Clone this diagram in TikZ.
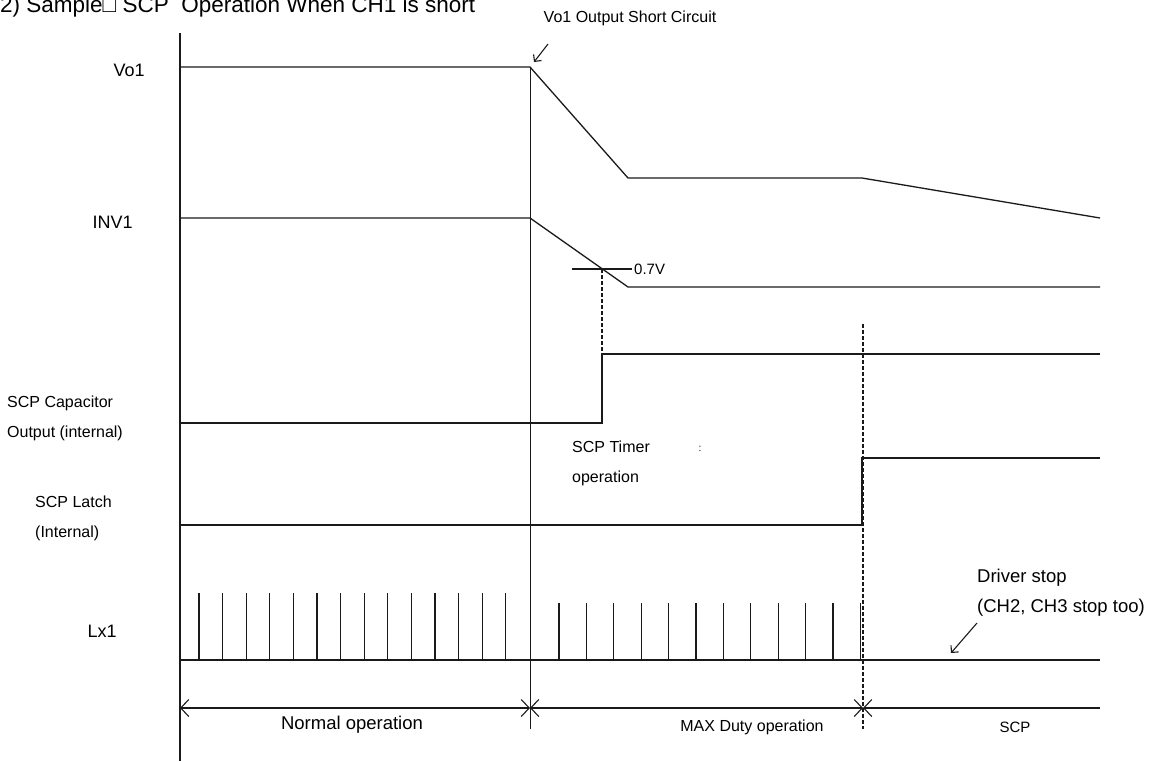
\documentclass[tikz,border=0pt]{standalone}
\usepackage{fontspec}
\setmainfont{Liberation Sans}
\usepackage{xcolor}
\usepackage{tikz}
\usetikzlibrary{calc, arrows.meta}
\definecolor{wavek}{HTML}{1A1A1A}
\newcommand{\fsTitle}{\fontsize{22.5}{27}\selectfont}
\newcommand{\fsSig}{\fontsize{18}{22}\selectfont}
\newcommand{\fsLbl}{\fontsize{16}{30}\selectfont}
\newcommand{\fsNote}{\fontsize{15}{18}\selectfont}
\newcommand{\fsDrv}{\fontsize{18.5}{30}\selectfont}

\begin{document}
\begin{tikzpicture}[x=1pt, y=-1pt,
  wave/.style={wavek, line width=1.3pt},
  thinline/.style={wavek, line width=0.9pt},
  dashline/.style={wavek, line width=1.2pt, dash pattern=on 4pt off 2pt},
  pulse/.style={wavek, line width=1.1pt},
  ptr/.style={wavek, line width=1.1pt, -{Straight Barb[length=5pt, width=10pt]}},
  dimline/.style={wavek, line width=1.1pt},
  dimtip/.tip={Straight Barb[length=8pt, width=17pt]}]
  \useasboundingbox (0,0) rectangle (1152,761);
  \def\xL{180}\def\xS{530}\def\xT{602}\def\xD{863}\def\xR{1100}\def\yDim{708}
  \node[font=\fsTitle, anchor=base west, inner sep=0pt] (title) at (0,12)
      {2) Sample□ SCP~~Operation When CH1 is short};
  \draw[wave] (\xL,33) -- (\xL,761);
  \draw[thinline] (\xS,67) -- (\xS,729);
  \draw[dashline] (\xD,324) -- (\xD,729);
  \draw[wave] (\xL,67) -- (\xS,67) -- (628,178) -- (862,178) -- (\xR,218);
  \node[font=\fsSig, anchor=west] (lblVo) at (110,70) {Vo1};
  \node[font=\fsLbl, anchor=center] (shortTxt) at (630,18) {Vo1 Output Short Circuit};
  \coordinate (shortTail) at (548,44);
  \coordinate (shortTip) at (534,62);
  \draw[ptr] (shortTail) -- (shortTip);
  \draw[wave] (\xL,218) -- (\xS,218) -- (628,287) -- (\xR,287);
  \node[font=\fsSig, anchor=west] (lblInv) at (89,222) {INV1};
  \coordinate (thrL) at (572,269);
  \coordinate (thrR) at (632,269);
  \draw[wave] (thrL) -- (thrR);
  \node[font=\fsNote, anchor=west, inner sep=2pt] (thrTxt) at (thrR) {0.7V};
  \draw[dashline] (\xT,269) -- (\xT,354);
  \draw[wave] (\xL,423) -- (\xT,423) -- (\xT,354) -- (\xR,354);
  \node[font=\fsLbl, anchor=west, align=left, inner sep=0pt] (lblCap) at (7,418.5)
      {SCP Capacitor\\Output (internal)};
  \node[font=\fsLbl, anchor=west, align=left, inner sep=0pt] (timerTxt) at (572,463)
      {SCP Timer\\operation};
  \node[font=\fontsize{10}{12}\selectfont, inner sep=0pt] (timerDots) at (700,449) {:};
  \draw[wave] (\xL,525) -- (862,525) -- (862,458) -- (\xR,458);
  \node[font=\fsLbl, anchor=west, align=left, inner sep=0pt] (lblLatch) at (35,518.5)
      {SCP Latch\\(Internal)};
  \draw[wave] (\xL,660) -- (\xR,660);
  \foreach \i in {0,...,13}
    \draw[pulse] (199+23.6*\i,660) -- (199+23.6*\i,593);
  \foreach \i in {0,...,11}
    \draw[pulse] (559+27.4*\i,660) -- (559+27.4*\i,603);
  \node[font=\fsSig, anchor=west] (lblLx) at (84,631) {Lx1};
  \node[font=\fsDrv, anchor=west, align=left, inner sep=0pt] (drvTxt) at (977,593)
      {Driver stop\\(CH2, CH3 stop too)};
  \coordinate (drvTail) at (977,623);
  \coordinate (drvTip) at (951,653);
  \draw[ptr] (drvTail) -- (drvTip);
  \coordinate (dimL) at (\xL,\yDim);
  \coordinate (dimS) at (\xS,\yDim);
  \coordinate (dimD) at (\xD,\yDim);
  \coordinate (dimR) at (\xR,\yDim);
  \draw[dimline, dimtip-dimtip] (dimL) -- (dimS);
  \draw[dimline, dimtip-dimtip] (dimS) -- (dimD);
  \draw[dimline, dimtip-] (dimD) -- (dimR);
  \node[font=\fsDrv] (normTxt) at (352,725) {Normal operation};
  \node[font=\fsLbl] (maxTxt) at (752,727) {MAX Duty operation};
  \node[font=\fsNote] (scpTxt) at (1015,727) {SCP};
\end{tikzpicture}
\end{document}
